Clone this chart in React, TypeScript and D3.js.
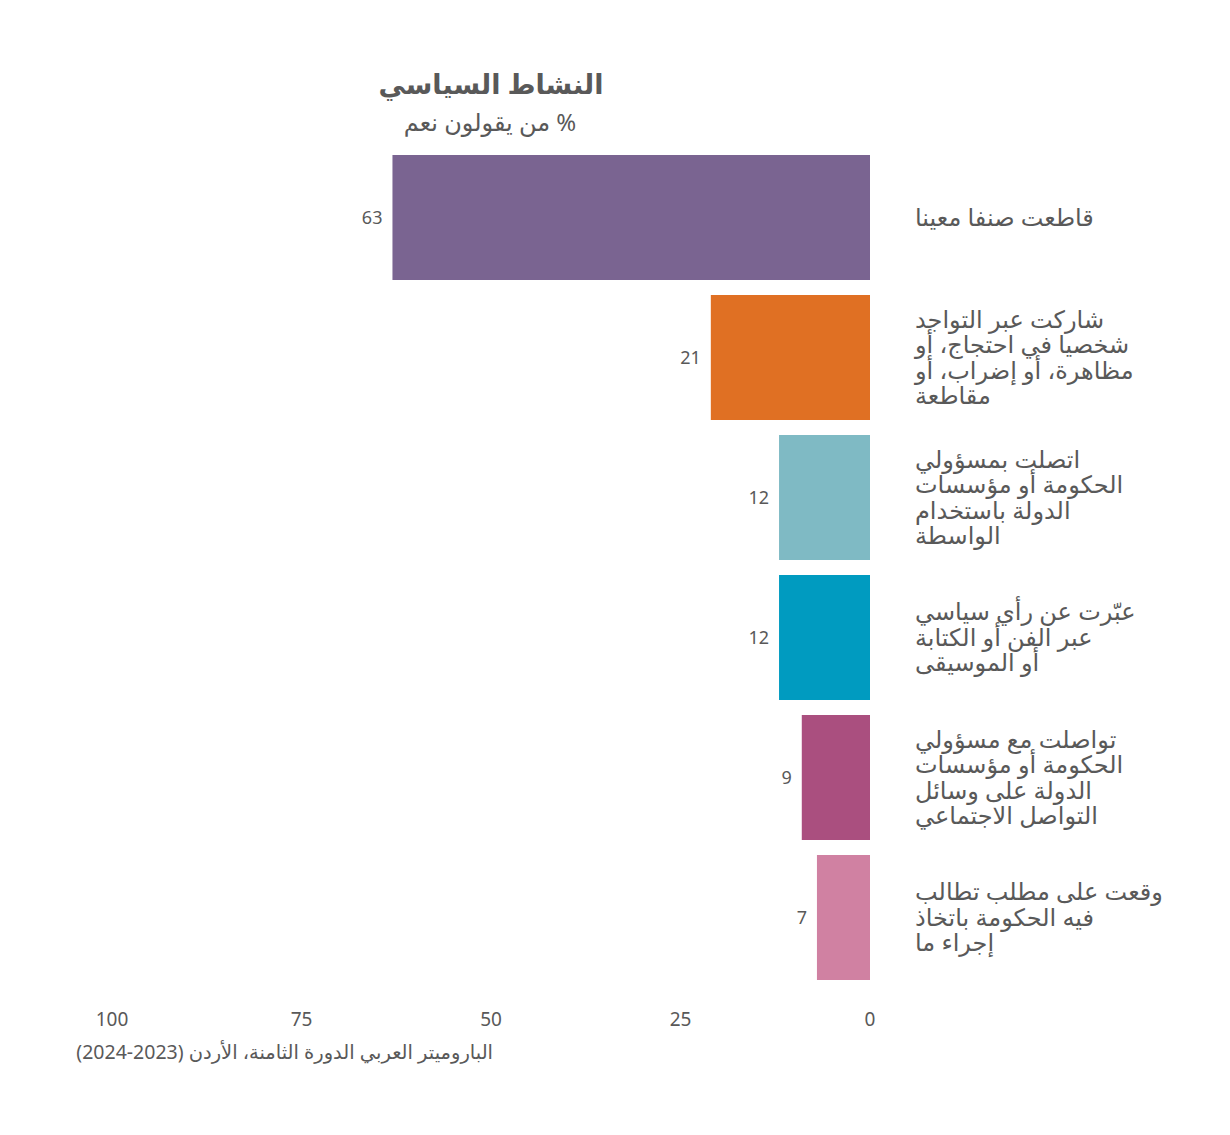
import React from "react";
import * as d3 from "d3";

const categories: string[][] = [
  ["قاطعت صنفا معينا"],
  ["شاركت عبر التواجد", "شخصيا في احتجاج، أو", "مظاهرة، أو إضراب، أو", "مقاطعة"],
  ["اتصلت بمسؤولي", "الحكومة أو مؤسسات", "الدولة باستخدام", "الواسطة"],
  ["عبّرت عن رأي سياسي", "عبر الفن أو الكتابة", "أو الموسيقى"],
  ["تواصلت مع مسؤولي", "الحكومة أو مؤسسات", "الدولة على وسائل", "التواصل الاجتماعي"],
  ["وقعت على مطلب تطالب", "فيه الحكومة باتخاذ", "إجراء ما"],
];
const values: number[] = [63, 21, 12, 12, 9, 7];
const colors: string[] = ["#7a6491", "#e07023", "#7fbac4", "#009bc0", "#aa4f7f", "#d081a2"];
const ticks: number[] = [100, 75, 50, 25, 0];
const title = "النشاط السياسي";
const subtitle = "% من يقولون نعم";
const source = "الباروميتر العربي الدورة الثامنة، الأردن (2023-2024)";

const FONT = "'Noto Sans', 'DejaVu Sans', sans-serif";
const GRAY = "#595959";

export default function App() {
  const x = d3.scaleLinear().domain([0, 100]).range([870, 112]);
  const y = d3
    .scaleBand<number>()
    .domain(d3.range(values.length))
    .range([155, 980])
    .paddingInner(15 / 140)
    .paddingOuter(0);
  const bw = y.bandwidth();
  const lh = 25.5;
  return (
    <svg width={1230} height={1135} style={{ display: "block", position: "absolute", left: 0, top: 0 }} fontFamily={FONT}>
      <rect width={1230} height={1135} fill="#ffffff" />
      <text x={491} y={94} textAnchor="middle" fontSize={27} fontWeight="bold" fill={GRAY} direction="rtl">
        {title}
      </text>
      <text x={490} y={131} textAnchor="middle" fontSize={24} fill={GRAY} direction="rtl">
        {subtitle}
      </text>
      {values.map((v, i) => {
        const y0 = y(i)!;
        const cy = y0 + bw / 2;
        const lines = categories[i];
        const startY = cy - ((lines.length - 1) * lh) / 2;
        return (
          <g key={i}>
            <rect x={x(v)} y={y0} width={x(0) - x(v)} height={bw} fill={colors[i]} />
            <text x={x(v) - 10} y={cy} dy="0.35em" textAnchor="end" fontSize={18} fill={GRAY}>
              {v}
            </text>
            {lines.map((l, j) => (
              <text
                key={j}
                x={915}
                y={startY + j * lh}
                dy="0.35em"
                textAnchor="end"
                direction="rtl"
                fontSize={24}
                fill={GRAY}
              >
                {l}
              </text>
            ))}
          </g>
        );
      })}
      {ticks.map((t) => (
        <text key={t} x={x(t)} y={1019} dy="0.35em" textAnchor="middle" fontSize={19} fill={GRAY}>
          {t}
        </text>
      ))}
      <text x={493} y={1052} dy="0.35em" textAnchor="start" direction="rtl" fontSize={19.5} fill={GRAY}>
        {source}
      </text>
    </svg>
  );
}
